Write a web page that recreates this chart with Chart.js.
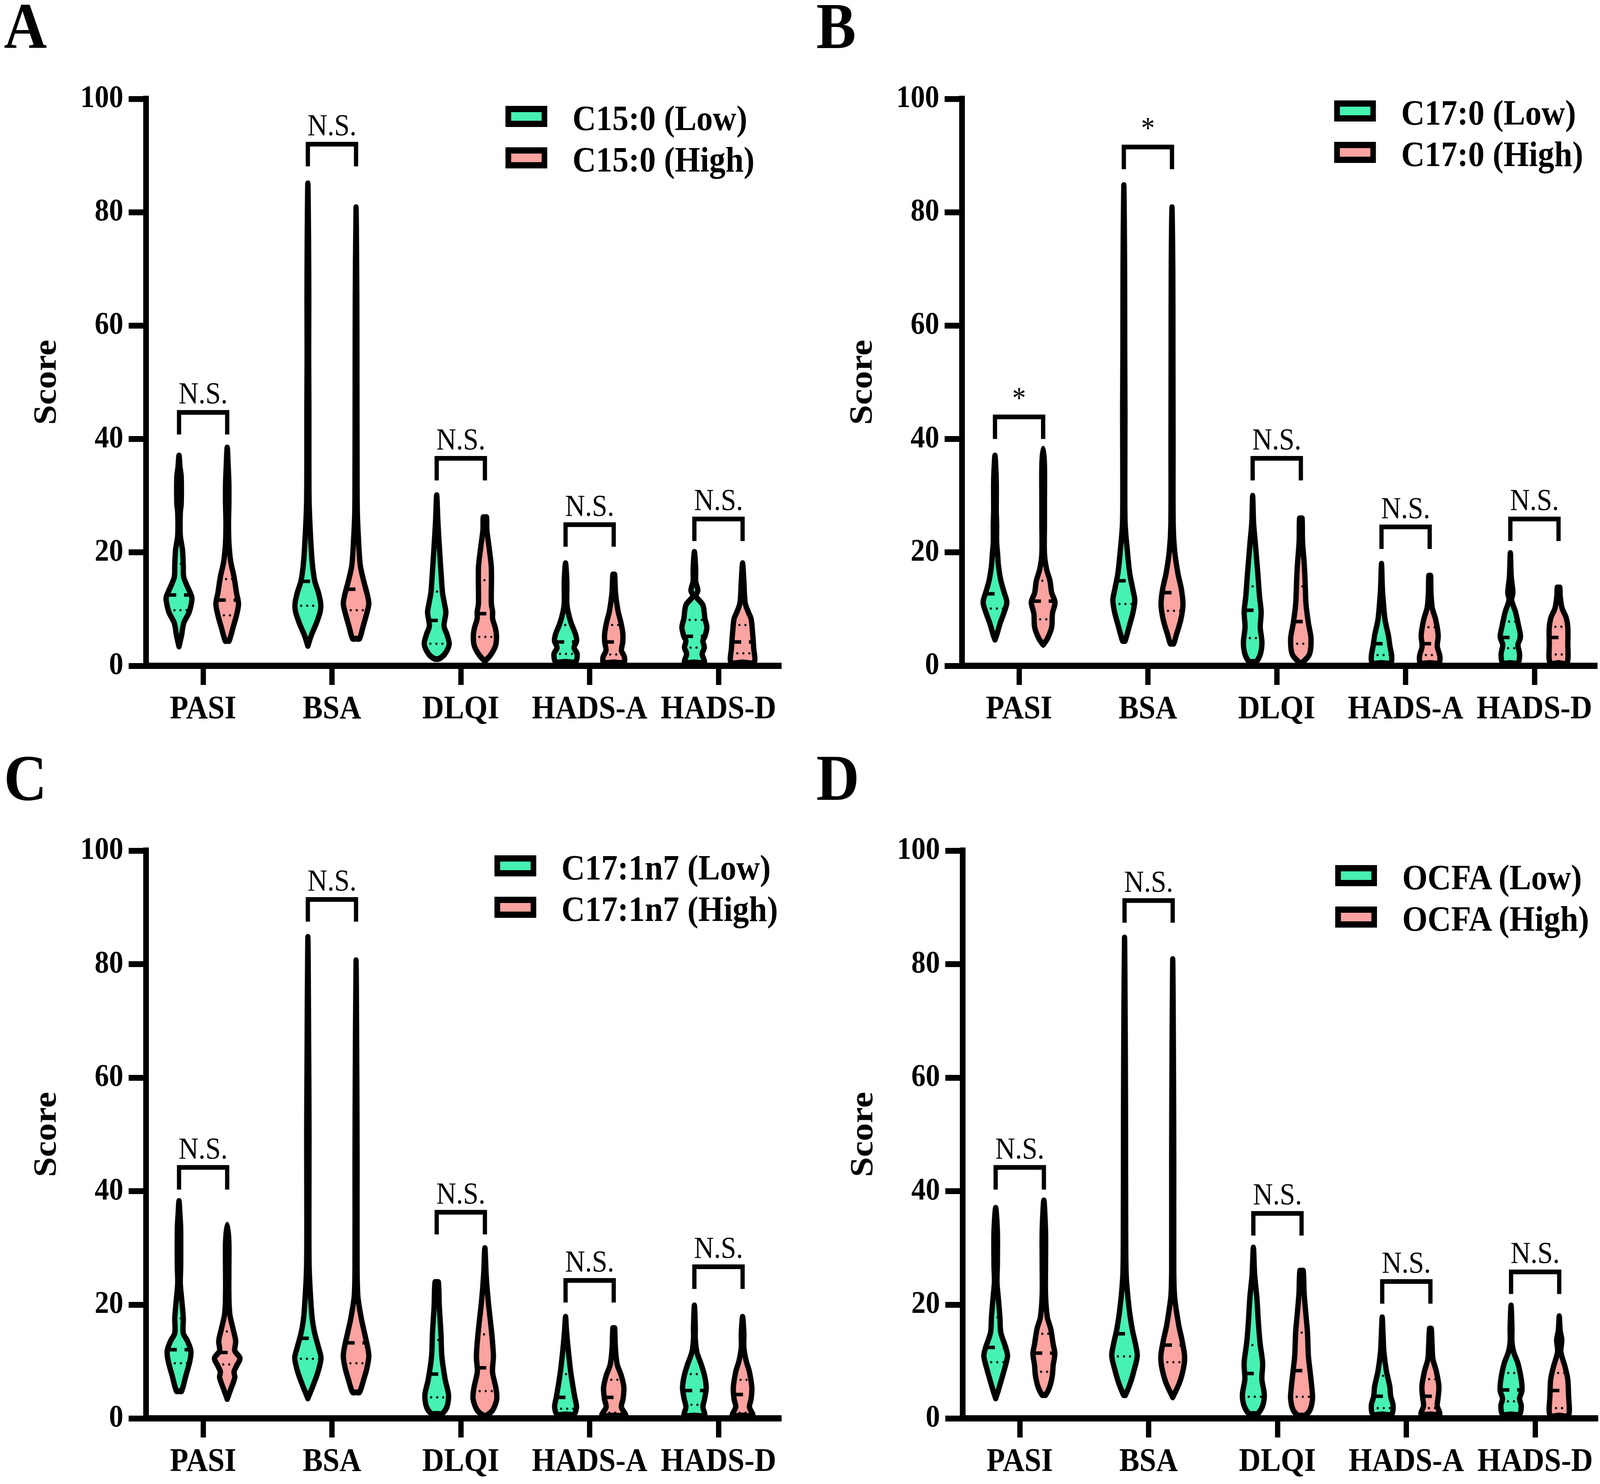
<!DOCTYPE html>
<html><head><meta charset="utf-8">
<script src="https://cdn.jsdelivr.net/npm/chart.js@4.4.1/dist/chart.umd.min.js"></script>
<style>
html,body{margin:0;padding:0;background:#fff;overflow:hidden;}
#wrap{position:fixed;left:0;top:0;width:100vw;height:100vh;overflow:hidden;background:#fff;}
#page{position:absolute;left:0;top:0;width:4514px;height:3798px;overflow:hidden;background:#fff;transform-origin:0 0;font-family:"Liberation Serif","Times New Roman",serif;color:#000;}
canvas{position:absolute;}
.letter{position:absolute;font-weight:bold;font-size:168px;line-height:168px;white-space:nowrap;}
.lgbox{position:absolute;box-sizing:border-box;width:118px;height:54px;border:16px solid #000;}
.lgtext{position:absolute;font-weight:bold;font-size:92px;line-height:92px;white-space:nowrap;}
</style></head>
<body><div id="wrap"><div id="page"></div></div>
<script>
// ---------------- DATA ----------------
const categories = ['PASI', 'BSA', 'DLQI', 'HADS-A', 'HADS-D'];
const yTicks = [0, 20, 40, 60, 80, 100];
const panelLetters = ['A', 'B', 'C', 'D'];

const legendA = ['C15:0 (Low)', 'C15:0 (High)'];
const legendB = ['C17:0 (Low)', 'C17:0 (High)'];
const legendC = ['C17:1n7 (Low)', 'C17:1n7 (High)'];
const legendD = ['OCFA (Low)', 'OCFA (High)'];

const sigA = ['N.S.', 'N.S.', 'N.S.', 'N.S.', 'N.S.'];
const sigB = ['*', '*', 'N.S.', 'N.S.', 'N.S.'];
const sigC = ['N.S.', 'N.S.', 'N.S.', 'N.S.', 'N.S.'];
const sigD = ['N.S.', 'N.S.', 'N.S.', 'N.S.', 'N.S.'];

const bracketA = [44.7, 92.0, 36.6, 24.9, 25.9];
const bracketB = [43.9, 91.5, 36.6, 24.5, 25.9];
const bracketC = [44.2, 91.4, 36.3, 24.3, 26.7];
const bracketD = [44.2, 91.2, 36.1, 24.1, 25.8];

// violin profiles: [score, relative density], bottom to top, one per category
const lowShapesA = [
  [[3.4,0],[5.4,0.2],[7.5,0.36],[9.5,0.79],[11.6,1.0],[12.3,0.97],[14.3,0.59],[15.7,0.36],[17.7,0.33],[20.4,0.27],[23,0.1],[27,0.1],[28.6,0.17],[33.4,0.17],[35,0.08],[37.1,0]],
  [[3.5,0],[5.4,0.27],[7.5,0.66],[9.5,0.95],[10.9,1.0],[12.9,0.82],[15,0.53],[18.4,0.33],[23.2,0.2],[28.6,0.1],[35,0.08],[45,0.08],[55,0.06],[65,0.07],[75,0.05],[85.1,0]],
  [[1.2,0.15],[2,0.6],[3.8,0.97],[5.5,0.8],[7,0.57],[9.4,0.71],[11,0.6],[12.9,0.45],[16,0.35],[21.2,0.2],[25,0.1],[30.1,0]],
  [[0.7,0.77],[2.1,0.9],[3.2,0.66],[4.4,0.86],[5.6,0.77],[7.5,0.44],[9.5,0.2],[11.1,0.1],[14.9,0.1],[18.1,0]],
  [[0.6,0.77],[2.1,0.6],[3.2,0.77],[4.4,0.66],[5.2,0.82],[6.8,0.97],[8.3,0.82],[10.7,0.66],[12.3,0.12],[13.3,0.27],[14.9,0.1],[17,0.1],[20.1,0]]
];
const highShapesA = [
  [[4.4,0.15],[6.8,0.46],[8.9,0.72],[10.9,0.88],[12.9,0.72],[15.7,0.53],[18.4,0.27],[21.8,0.13],[25.2,0.1],[28.6,0.13],[32,0.13],[35,0.08],[38.5,0]],
  [[4.8,0.27],[6.8,0.53],[8.9,0.79],[10.9,0.99],[12.3,0.9],[15,0.59],[17.7,0.33],[21.8,0.2],[27,0.1],[35,0.08],[50,0.07],[65,0.06],[80.9,0]],
  [[0.8,0],[1.9,0.44],[3.5,0.82],[5.1,0.9],[6.6,0.82],[8.3,0.6],[9.5,0.6],[11,0.5],[17.3,0.5],[20.8,0.33],[24,0.15],[26.2,0.13]],
  [[0.6,0.8],[1.6,0.82],[2.7,0.6],[4.2,0.7],[5.8,0.7],[7.7,0.55],[9.7,0.33],[12.8,0.14],[16.1,0.07]],
  [[0.6,0.9],[3.2,0.86],[6,0.77],[8.3,0.66],[9.5,0.44],[11.1,0.2],[14.9,0.1],[18.1,0]]
];
const lowShapesB = [
  [[4.6,0],[5.4,0.13],[7.5,0.4],[9.5,0.72],[11.2,0.92],[12.9,0.72],[15,0.46],[17.7,0.27],[19.8,0.2],[21.8,0.13],[25,0.13],[27.2,0.1],[32.7,0.1],[37.1,0]],
  [[4.4,0.1],[6.8,0.4],[9.5,0.72],[11.6,0.85],[13.6,0.69],[16.3,0.46],[20.4,0.27],[25.2,0.1],[35,0.08],[45,0.09],[55,0.07],[70,0.06],[84.8,0]],
  [[0.7,0.27],[2,0.59],[4.1,0.72],[6.8,0.59],[9.5,0.66],[12.3,0.53],[16.3,0.4],[21.8,0.2],[25.2,0.07],[30,0]],
  [[0.5,0.72],[1.7,0.79],[3.4,0.66],[5.4,0.53],[8.2,0.27],[11.6,0.13],[13.6,0.07],[18,0]],
  [[0.5,0.59],[2,0.72],[3.7,0.59],[5.1,0.79],[6.8,0.66],[9.5,0.4],[11.6,0.1],[12.9,0.2],[15.7,0.07],[19.9,0]]
];
const highShapesB = [
  [[3.7,0],[4.8,0.33],[6.8,0.66],[9.2,0.72],[11.2,0.92],[12.9,0.66],[15,0.53],[17,0.27],[19.8,0.1],[25,0.1],[28.6,0.1],[35.4,0.1],[38.3,0]],
  [[3.9,0.13],[5.4,0.33],[8.2,0.69],[10.9,0.85],[13.6,0.72],[16.3,0.46],[20.4,0.2],[25,0.09],[40,0.08],[55,0.07],[70,0.06],[80.9,0]],
  [[0.3,0],[2,0.66],[4.8,0.79],[7.5,0.59],[10.9,0.4],[15,0.33],[17.7,0.27],[22,0.13],[26,0.1]],
  [[0.5,0.72],[1.7,0.79],[3.4,0.59],[5.4,0.66],[8.2,0.46],[10.2,0.2],[12.9,0.1],[15.9,0.07]],
  [[0.5,0.66],[4.1,0.72],[6.8,0.72],[8.5,0.59],[10.2,0.27],[12.3,0.13],[13.8,0.1]]
];
const lowShapesC = [
  [[4.8,0.2],[7.5,0.53],[10.2,0.85],[11.9,0.92],[13.6,0.66],[15,0.33],[17.7,0.33],[20.4,0.23],[23.8,0.1],[26.6,0.13],[33.4,0.13],[36,0.07],[38.3,0]],
  [[3.5,0],[6.1,0.46],[8.2,0.79],[10.6,1.02],[12.3,0.85],[15,0.53],[17.7,0.33],[21.8,0.2],[26.6,0.1],[35,0.08],[50,0.09],[65,0.06],[84.8,0]],
  [[0.8,0.4],[2,0.79],[4.1,0.92],[6.8,0.66],[10.9,0.4],[15,0.33],[19.8,0.2],[24,0.13]],
  [[0.7,0.66],[2,0.85],[3.7,0.72],[5.4,0.59],[8.2,0.4],[12.3,0.2],[15.6,0.07],[17.9,0]],
  [[0.5,0.79],[2,0.66],[3.4,0.79],[5.4,0.92],[7.5,0.79],[9.5,0.53],[11.6,0.2],[14,0.07],[16,0.07],[19.9,0]]
];
const highShapesC = [
  [[3.4,0],[5.1,0.27],[7.2,0.59],[8.2,0.53],[9.2,0.72],[10.6,0.99],[11.9,0.59],[13.6,0.66],[15.7,0.46],[18.4,0.2],[21.8,0.13],[26,0.13],[31,0.13],[34.1,0]],
  [[4.6,0.27],[6.8,0.59],[8.9,0.85],[10.9,0.99],[12.3,0.92],[15,0.66],[17.7,0.4],[21.8,0.13],[30,0.08],[45,0.08],[60,0.06],[80.7,0]],
  [[0.3,0],[1.4,0.59],[3.4,0.92],[5.4,0.85],[8.2,0.59],[10.9,0.66],[15,0.53],[20.4,0.27],[25.2,0.1],[30,0]],
  [[0.5,0.92],[2,0.59],[3.4,0.72],[5.4,0.79],[7.5,0.59],[9.5,0.27],[12.3,0.13],[15.9,0.07]],
  [[0.5,0.79],[2,0.53],[3.4,0.66],[5.4,0.72],[8.2,0.53],[10.2,0.27],[12.5,0.1],[15,0.1],[17.9,0]]
];
const lowShapesD = [
  [[3.5,0],[4.9,0.2],[6.9,0.46],[9,0.72],[11,0.92],[12.4,0.79],[15.1,0.4],[17.8,0.33],[21.3,0.2],[24,0.1],[27,0.13],[33,0.13],[37.1,0]],
  [[4.1,0.07],[6.3,0.46],[8.3,0.72],[11,0.99],[13.1,0.85],[15.8,0.59],[19.9,0.33],[25.3,0.13],[35,0.09],[50,0.08],[65,0.06],[84.7,0]],
  [[0.8,0.33],[2.2,0.72],[4.2,0.85],[6.9,0.66],[9.7,0.72],[13.1,0.53],[16.5,0.4],[21.3,0.27],[25.3,0.1],[30.1,0]],
  [[0.7,0.72],[2.2,0.85],[3.9,0.66],[5.6,0.59],[8.3,0.33],[11.7,0.13],[14.5,0.07],[17.8,0]],
  [[0.7,0.66],[2.2,0.79],[3.5,0.66],[4.9,0.85],[6.9,0.79],[9.7,0.53],[11.7,0.2],[13.5,0.07],[16,0.07],[19.9,0]]
];
const highShapesD = [
  [[4.1,0.13],[5.6,0.46],[7.6,0.66],[9.3,0.72],[11.4,0.85],[13.1,0.72],[15.8,0.53],[17.8,0.27],[21.9,0.13],[27,0.13],[33,0.13],[38.4,0]],
  [[3.7,0],[6.3,0.53],[9,0.85],[11,0.92],[13.8,0.72],[16.5,0.46],[21.9,0.13],[30,0.08],[45,0.08],[60,0.06],[80.9,0]],
  [[0.5,0.27],[1.5,0.66],[3.5,0.85],[5.6,0.79],[8.3,0.66],[11,0.53],[15.1,0.46],[18.5,0.33],[22,0.2],[26,0.13]],
  [[0.7,0.72],[2.2,0.53],[3.5,0.59],[5.6,0.66],[8.3,0.46],[10.4,0.2],[13,0.13],[15.8,0.07]],
  [[0.5,0.72],[4.2,0.72],[6.9,0.66],[9,0.46],[11.7,0.13],[13.8,0.2],[15.5,0.07],[18,0]]
];

const medLowA = [12.5, 14.9, 8.0, 4.2, 5.2],  medHighA = [11.6, 13.5, 9.2, 4.2, 4.2];
const q1LowA  = [9.8, 10.6, 3.9, 2.1, 3.2],   q1HighA  = [8.9, 9.8, 5.1, 2.0, 2.2];
const q3LowA  = [18.0, 21.0, 13.1, 7.2, 8.1], q3HighA  = [15.3, 19.0, 15.1, 7.2, 7.2];
const medLowB = [12.7, 15.0, 9.8, 3.9, 5.0],  medHighB = [11.4, 12.9, 7.8, 3.9, 5.0];
const q1LowB  = [10.1, 10.9, 4.9, 1.9, 3.1],  q1HighB  = [8.2, 9.7, 3.9, 1.9, 2.0];
const q3LowB  = [17.6, 21.0, 14.0, 8.2, 7.8], q3HighB  = [15.0, 19.0, 14.0, 6.8, 6.9];
const medLowC = [12.1, 14.1, 7.8, 3.7, 4.9],  medHighC = [11.6, 13.3, 8.9, 3.7, 4.2];
const q1LowC  = [9.7, 10.5, 3.7, 1.7, 2.4],   q1HighC  = [9.5, 9.7, 4.8, 1.0, 1.0];
const q3LowC  = [17.6, 21.0, 13.8, 7.8, 7.8], q3HighC  = [15.3, 19.0, 14.8, 6.8, 6.8];
const medLowD = [12.5, 14.9, 7.9, 3.9, 5.0],  medHighD = [11.5, 12.9, 8.4, 3.9, 4.9];
const q1LowD  = [9.9, 10.9, 3.8, 1.8, 3.0],   q1HighD  = [8.2, 9.9, 3.8, 1.8, 1.8];
const q3LowD  = [17.8, 21.0, 12.9, 7.5, 8.0], q3HighD  = [14.9, 19.0, 15.1, 6.9, 8.0];

// ---------------- STYLE / LAYOUT ----------------
const DESIGN_W = 4514, DESIGN_H = 3798;
const GREEN = '#46F1B1', PINK = '#FAA3A0';
const FONT = '"Liberation Serif", "Times New Roman", serif';
const HALF_W = 0.1;      // category units per unit of relative density
const OFFSET = 0.187;    // violin offset from category centre
const LEG = 3.9;         // bracket leg length (score units)
const PX_PER_CAT = 363.5;

Chart.defaults.font.family = FONT;
Chart.defaults.color = '#000';

const page = document.getElementById('page');
// fit the design into whatever viewport the browser really has
const SX = (window.innerWidth || DESIGN_W) / DESIGN_W;
const SY = (window.innerHeight || DESIGN_H) / DESIGN_H;
page.style.transform = 'scale(' + SX + ',' + SY + ')';

function widthAt(prof, y) {
  if (y <= prof[0][0]) return prof[0][1];
  for (let i = 1; i < prof.length; i++) {
    if (y <= prof[i][0]) {
      const [y0, w0] = prof[i - 1], [y1, w1] = prof[i];
      return w0 + (w1 - w0) * (y - y0) / (y1 - y0);
    }
  }
  return prof[prof.length - 1][1];
}

function violinPoints(cx, prof) {
  const right = prof.map(([y, w]) => ({x: cx + w * HALF_W, y}));
  const left = prof.map(([y, w]) => ({x: cx - w * HALF_W, y})).reverse();
  let pts = [];
  const bottom = prof[0], top = prof[prof.length - 1];
  if (bottom[1] > 0) pts.push({x: cx, y: bottom[0]});
  pts = pts.concat(right);
  if (top[1] > 0) pts.push({x: cx, y: top[0]}); else left.shift();
  pts = pts.concat(left);
  if (bottom[1] > 0) pts.push({x: cx, y: bottom[0]});
  return pts;
}

function hline(cx, prof, y, width, dash, cap) {
  const w = widthAt(prof, y) * HALF_W;
  return {
    data: [{x: cx - w, y}, {x: cx + w, y}],
    borderColor: '#000', borderWidth: width, borderDash: dash, borderCapStyle: cap,
    pointRadius: 0, fill: false, tension: 0, order: 1, clip: false
  };
}

function makePanel(p) {
  const cv = document.createElement('canvas');
  cv.width = p.cw; cv.height = p.ch;
  cv.style.left = p.cx + 'px'; cv.style.top = p.cy + 'px';
  cv.style.width = p.cw + 'px'; cv.style.height = p.ch + 'px';
  page.appendChild(cv);

  const areaLeft = p.left - p.cx, areaTop = p.top - p.cy;
  const areaRight = p.right - p.cx, areaBottom = p.bottom - p.cy;
  const firstCatPx = 161;
  const xMin = 1 - firstCatPx / PX_PER_CAT;
  const xMax = xMin + (areaRight - areaLeft) / PX_PER_CAT;

  const ds = [];
  for (let i = 0; i < categories.length; i++) {
    const c = i + 1;
    const groups = [
      [p.low, p.medLow, p.q1Low, p.q3Low, -OFFSET, GREEN],
      [p.high, p.medHigh, p.q1High, p.q3High, OFFSET, PINK]
    ];
    groups.forEach(([shapes, med, q1, q3, off, col]) => {
      const cx = c + off, prof = shapes[i];
      ds.push({
        data: violinPoints(cx, prof), borderColor: '#000', backgroundColor: col,
        borderWidth: 15, fill: 'shape', tension: 0.3, pointRadius: 0,
        borderJoinStyle: 'round', borderCapStyle: 'round', order: 3, clip: false
      });
      ds.push(hline(cx, prof, med[i], 9, [26, 22], 'butt'));
      ds.push(hline(cx, prof, q1[i], 6, [0, 17], 'round'));
      ds.push(hline(cx, prof, q3[i], 6, [0, 17], 'round'));
    });
    const t = p.brackets[i];
    ds.push({
      data: [{x: c - OFFSET, y: t - LEG}, {x: c - OFFSET, y: t}, {x: c + OFFSET, y: t}, {x: c + OFFSET, y: t - LEG}],
      borderColor: '#000', borderWidth: 12, borderJoinStyle: 'miter', borderCapStyle: 'butt',
      pointRadius: 0, fill: false, tension: 0, order: 1, clip: false
    });
  }

  const sigPlugin = {
    id: 'sigLabels',
    afterDatasetsDraw(chart) {
      const {ctx} = chart, xs = chart.scales.x, ys = chart.scales.y;
      ctx.save();
      ctx.font = '78px ' + FONT;
      ctx.fillStyle = '#000';
      ctx.textAlign = 'center';
      ctx.textBaseline = 'alphabetic';
      p.sig.forEach((txt, i) => {
        ctx.fillText(txt, xs.getPixelForValue(i + 1), ys.getPixelForValue(p.brackets[i]) - 23);
      });
      ctx.restore();
    }
  };

  new Chart(cv.getContext('2d'), {
    type: 'line',
    data: {datasets: ds},
    plugins: [sigPlugin],
    options: {
      responsive: false, animation: false, devicePixelRatio: 1, events: [],
      layout: {padding: {left: 0, top: areaTop, right: p.cw - areaRight, bottom: 0}},
      plugins: {legend: {display: false}, tooltip: {enabled: false}},
      scales: {
        x: {
          type: 'linear', min: xMin, max: xMax,
          afterBuildTicks: s => { s.ticks = categories.map((_, i) => ({value: i + 1})); },
          afterFit: s => { s.height = p.ch - areaBottom; },
          ticks: {
            callback: v => categories[Math.round(v) - 1],
            font: {size: 85, weight: 'bold'}, color: '#000', padding: 13,
            maxRotation: 0, autoSkip: false
          },
          grid: {drawOnChartArea: false, drawTicks: true, tickLength: 49, tickWidth: 15, lineWidth: 15, color: '#000', tickColor: '#000'},
          border: {display: true, width: 16, color: '#000'}
        },
        y: {
          type: 'linear', min: 0, max: 100,
          afterBuildTicks: s => { s.ticks = yTicks.map(v => ({value: v})); },
          afterFit: s => { s.width = areaLeft; },
          ticks: {font: {size: 81, weight: 'bold'}, color: '#000', padding: 15},
          grid: {drawOnChartArea: false, drawTicks: true, tickLength: 49, tickWidth: 15, lineWidth: 15, color: '#000', tickColor: '#000'},
          border: {display: true, width: 16, color: '#000'},
          title: {display: true, text: 'Score', color: '#000', font: {size: 92, weight: 'bold'},
                  padding: {top: areaLeft - 279 - 55, bottom: 0}}
        }
      }
    }
  });

  // legend (HTML, real text)
  p.legend.forEach((label, k) => {
    const top = p.lgTop + k * 106;
    const box = document.createElement('div');
    box.className = 'lgbox';
    box.style.left = p.lgLeft + 'px'; box.style.top = top + 'px';
    box.style.background = k === 0 ? GREEN : PINK;
    page.appendChild(box);
    const tx = document.createElement('div');
    tx.className = 'lgtext';
    tx.textContent = label;
    tx.style.left = (p.lgLeft + 189) + 'px';
    tx.style.top = (top - 15) + 'px';
    page.appendChild(tx);
  });

  const L = document.createElement('div');
  L.className = 'letter';
  L.textContent = p.letter;
  L.style.left = p.letterX + 'px';
  L.style.top = p.letterY + 'px';
  page.appendChild(L);
}

makePanel({cx: 0, cy: 0, cw: 2257, ch: 1899, left: 412, top: 253, right: 2197, bottom: 1704,
  low: lowShapesA, high: highShapesA, medLow: medLowA, medHigh: medHighA, q1Low: q1LowA, q1High: q1HighA,
  q3Low: q3LowA, q3High: q3HighA, brackets: bracketA, sig: sigA, legend: legendA,
  lgLeft: 1426, lgTop: 271, letter: panelLetters[0], letterX: 11, letterY: -18});
makePanel({cx: 2257, cy: 0, cw: 2257, ch: 1899, left: 2714, top: 253, right: 4499, bottom: 1704,
  low: lowShapesB, high: highShapesB, medLow: medLowB, medHigh: medHighB, q1Low: q1LowB, q1High: q1HighB,
  q3Low: q3LowB, q3High: q3HighB, brackets: bracketB, sig: sigB, legend: legendB,
  lgLeft: 3764, lgTop: 257, letter: panelLetters[1], letterX: 2303, letterY: -18});
makePanel({cx: 0, cy: 1899, cw: 2257, ch: 1899, left: 412, top: 2177, right: 2197, bottom: 3630,
  low: lowShapesC, high: highShapesC, medLow: medLowC, medHigh: medHighC, q1Low: q1LowC, q1High: q1HighC,
  q3Low: q3LowC, q3High: q3HighC, brackets: bracketC, sig: sigC, legend: legendC,
  lgLeft: 1395, lgTop: 2189, letter: panelLetters[2], letterX: 11, letterY: 1906});
makePanel({cx: 2257, cy: 1899, cw: 2257, ch: 1899, left: 2716, top: 2177, right: 4501, bottom: 3630,
  low: lowShapesD, high: highShapesD, medLow: medLowD, medHigh: medHighD, q1Low: q1LowD, q1High: q1HighD,
  q3Low: q3LowD, q3High: q3HighD, brackets: bracketD, sig: sigD, legend: legendD,
  lgLeft: 3767, lgTop: 2214, letter: panelLetters[3], letterX: 2303, letterY: 1906});
</script>
</body></html>
